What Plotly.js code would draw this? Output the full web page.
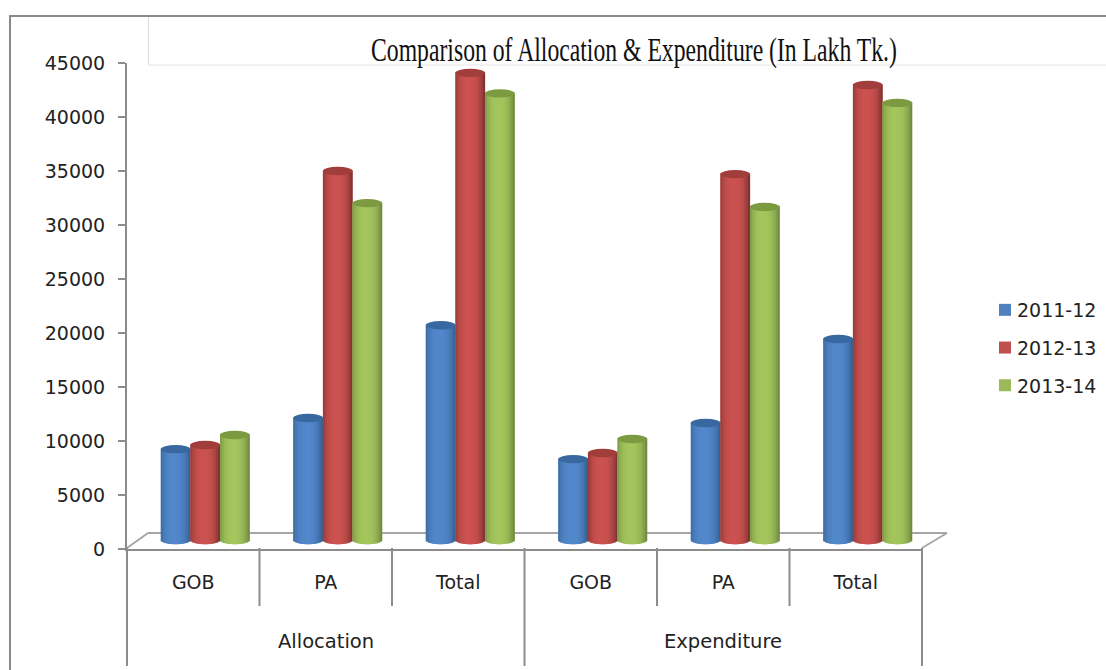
<!DOCTYPE html>
<html>
<head>
<meta charset="utf-8">
<script src="https://cdn.plot.ly/plotly-3.0.1.min.js"></script>
<style>html,body{margin:0;padding:0;background:#fff}#chart{width:1106px;height:670px}</style>
</head>
<body>
<div id="chart"></div>
<script>
// Budget figures in lakh taka
const categories = ["GOB", "PA", "Total", "GOB", "PA", "Total"];
const groups = ["Allocation", "Expenditure"];
const years = ["2011-12", "2012-13", "2013-14"];
const values2011 = [8410, 11300, 19880, 7490, 10830, 18610];
const values2012 = [8800, 34160, 43250, 8050, 33880, 42130];
const values2013 = [9720, 31190, 41350, 9350, 30840, 40470];
const yTicks = [0, 5000, 10000, 15000, 20000, 25000, 30000, 35000, 40000, 45000];

const seriesValues = [values2011, values2012, values2013];
const baseColors = ["#4f81bd", "#c0504d", "#9bbb59"];
const bodyLight = [[82, 136, 204], [204, 82, 80], [164, 198, 92]];
const bodyDark = [[50, 90, 138], [116, 46, 44], [104, 128, 60]];
const capColors = ["#38689f", "#a13e3b", "#7c9a40"];

// Plot area in page pixels
const W = 1106, H = 670;
const L = 127, R = 922, T = 63, B = 549;
const px2x = p => (p - L) / (R - L);
const px2y = p => (B - p) / (B - T);
const unitsPerPx = 45000 / (B - T);
const catPx = (R - L) / 6;

// Cylinders stand in the middle of the floor, so they sit a little right of and above the axis
const depthShift = 12 / catPx;
const floorLift = 9 * unitsPerPx;
const barWidth = 29.6 / catPx;
const capRadius = 4.2 * unitsPerPx;
const strips = 15;

const traces = [];
const shapes = [];

function rule(x0, y0, x1, y1, color, width, layer) {
  return { type: "line", xref: "paper", yref: "paper", layer: layer || "above",
    x0: px2x(x0), y0: px2y(y0), x1: px2x(x1), y1: px2y(y1),
    line: { color: color, width: width } };
}

// Shading profile across a cylinder: dark rim, bright band left of centre
function shade(s, t) {
  const u = Math.abs(t + 0.08) / 1.08;
  const k = Math.min(1, Math.pow(u, 2.6));
  return "rgb(" + bodyLight[s].map((c, i) => Math.round(c + (bodyDark[s][i] - c) * k)).join(",") + ")";
}

years.forEach((year, s) => {
  const xs = categories.map((c, i) => i + 0.5 + depthShift + (s - 1) * barWidth);
  const vals = seriesValues[s];

  // Plain bar carrying the value and the legend entry
  traces.push({
    type: "bar", name: year, x: xs, y: vals,
    base: vals.map(() => floorLift), width: barWidth,
    marker: { color: baseColors[s], line: { width: 0 } },
    legendgroup: year, showlegend: true, hoverinfo: "y+name"
  });

  // Narrow strips on top of it give the round shading and curved foot
  for (let k = 0; k < strips; k++) {
    const t = -1 + (2 * k + 1) / strips;
    const foot = capRadius * Math.sqrt(1 - t * t);
    traces.push({
      type: "bar", x: xs.map(x => x + t * barWidth / 2),
      y: vals.map(v => v + foot + capRadius * 0.2),
      base: vals.map(() => floorLift - foot), width: barWidth / strips * 1.06,
      marker: { color: shade(s, t), line: { width: 0 } },
      showlegend: false, hoverinfo: "skip"
    });
  }

  xs.forEach((x, i) => {
    // Rounded foot under the strips
    shapes.push({
      type: "circle", xref: "x", yref: "y", layer: "below",
      x0: x - barWidth / 2, x1: x + barWidth / 2,
      y0: floorLift - capRadius, y1: floorLift + capRadius,
      fillcolor: baseColors[s], line: { width: 0 }
    });
    // Elliptical top of each cylinder
    shapes.push({
      type: "circle", xref: "x", yref: "y",
      x0: x - barWidth / 2, x1: x + barWidth / 2,
      y0: vals[i] + floorLift - capRadius, y1: vals[i] + floorLift + capRadius,
      fillcolor: capColors[s], line: { width: 0 }
    });
  });
});

const grey = "#8c8c8c";

// Floor of the chart
shapes.push(rule(127, 548, 148, 533, "#a6a6a6", 2, "below"));
shapes.push(rule(148, 533, 947, 533, "#a6a6a6", 2, "below"));
shapes.push(rule(947, 533, 922, 548, "#a6a6a6", 2, "below"));

// Two-level category dividers under the axis
[127, 524.5, 922].forEach(p => shapes.push(rule(p, 548, p, 666, grey, 2)));
[259.5, 392, 657, 789.5].forEach(p => shapes.push(rule(p, 548, p, 606, grey, 2)));

// Outer frame and title box
shapes.push(rule(9, 16, W, 16, "#8a8a8a", 2));
shapes.push(rule(10, 16, 10, H, "#8a8a8a", 2));
shapes.push(rule(148.5, 17, 148.5, 65, "#dcdcdc", 1));
shapes.push(rule(148.5, 65, W, 65, "#e4e4e4", 1));

const annotations = groups.map((g, i) => ({
  text: g, xref: "paper", yref: "paper", showarrow: false,
  x: (i * 3 + 1.5) / 6, y: px2y(641), xanchor: "center", yanchor: "middle",
  font: { family: "DejaVu Sans", size: 19.5, color: "#222" }
}));

// The legend is laid out clear of the page edge, then slid into its final place
const legendSlide = 47;

const layout = {
  width: W, height: H, autosize: false,
  paper_bgcolor: "#fff", plot_bgcolor: "rgba(0,0,0,0)",
  margin: { l: L, r: W - R, t: T, b: H - B, pad: 0 },
  barmode: "overlay", showlegend: true,
  title: {
    text: "Comparison of Allocation &amp; Expenditure (In Lakh Tk.)",
    x: 634 / W, xref: "container", xanchor: "center",
    y: 1 - 49 / H, yref: "container", yanchor: "middle",
    font: { family: "Liberation Serif", size: 33, color: "#111" }
  },
  xaxis: {
    type: "linear", range: [0, 6], showgrid: false, zeroline: false,
    tickmode: "array", tickvals: categories.map((c, i) => i + 0.5), ticktext: categories,
    ticks: "", ticklabelstandoff: 15, showline: true, linecolor: grey, linewidth: 2,
    tickfont: { family: "DejaVu Sans", size: 19, color: "#222" }
  },
  yaxis: {
    range: [0, 45000], showgrid: false, zeroline: false,
    tickmode: "array", tickvals: yTicks, ticktext: yTicks.map(String),
    ticks: "outside", ticklen: 7, tickwidth: 2, tickcolor: grey,
    showline: true, linecolor: grey, linewidth: 2, ticklabelstandoff: 9,
    tickfont: { family: "DejaVu Sans", size: 19, color: "#222" }
  },
  legend: {
    x: px2x(977 - legendSlide), xanchor: "left", y: px2y(291), yanchor: "top",
    tracegroupgap: 10, font: { family: "DejaVu Sans", size: 19, color: "#222" },
    bgcolor: "rgba(0,0,0,0)", borderwidth: 0
  },
  shapes: shapes, annotations: annotations
};

Plotly.newPlot("chart", traces, layout, { displayModeBar: false, staticPlot: true }).then(gd => {
  // Narrow serif title: squeeze the glyphs horizontally about the title's centre
  const title = gd.querySelector(".gtitle");
  if (title) {
    const box = title.getBBox();
    const cx = box.x + box.width / 2;
    const sx = 526 / box.width;
    title.setAttribute("transform", "translate(" + cx + " 0) scale(" + sx + " 1) translate(" + (-cx) + " 0)");
  }
  // Pull legend swatches closer to their labels
  gd.querySelectorAll(".legend .legendsymbols").forEach(g => g.setAttribute("transform", "translate(8 0)"));
  const legend = gd.querySelector(".legend");
  if (legend) {
    const m = /translate\(([-\d.]+)[ ,]+([-\d.]+)\)/.exec(legend.getAttribute("transform"));
    if (m) legend.setAttribute("transform", "translate(" + (parseFloat(m[1]) + legendSlide) + "," + m[2] + ")");
  }
});
</script>
</body>
</html>
